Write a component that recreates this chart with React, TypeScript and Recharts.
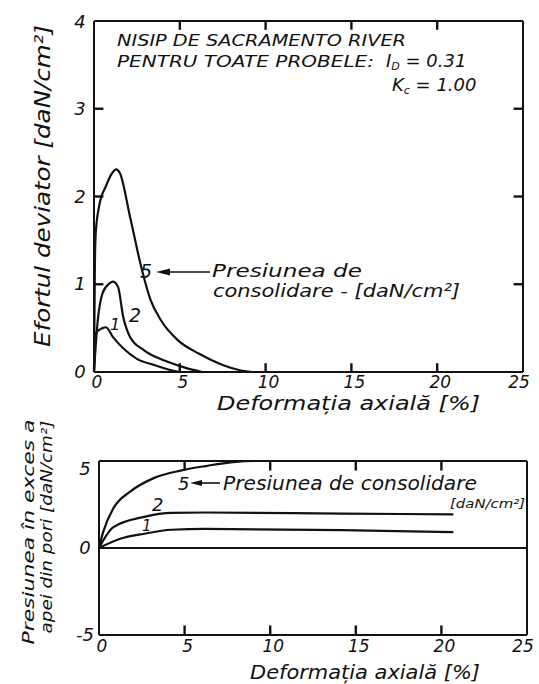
import { LineChart, Line, XAxis, YAxis, ReferenceLine } from 'recharts';

// deformatia axiala [%]
const strainTicks = [0, 5, 10, 15, 20, 25];
const deviatorTicks = [0, 1, 2, 3, 4];
const poreTicks = [-5, 0, 5];

// efortul deviator [daN/cm2], presiunea de consolidare 5, 2, 1
const deviator5 = [
  { x: 0, y: 0 }, { x: 0.05, y: 1.2 }, { x: 0.1, y: 1.58 }, { x: 0.3, y: 1.89 }, { x: 0.7, y: 2.12 },
  { x: 1.0, y: 2.25 }, { x: 1.3, y: 2.31 }, { x: 1.5, y: 2.27 }, { x: 2.1, y: 1.77 }, { x: 2.7, y: 1.24 },
  { x: 3.3, y: 0.82 }, { x: 3.9, y: 0.59 }, { x: 4.9, y: 0.36 }, { x: 6.1, y: 0.21 }, { x: 7.5, y: 0.08 },
  { x: 8.5, y: 0.02 }, { x: 9.2, y: 0 },
];
const deviator2 = [
  { x: 0, y: 0 }, { x: 0.2, y: 0.55 }, { x: 0.5, y: 0.9 }, { x: 0.9, y: 1.01 }, { x: 1.1, y: 1.03 },
  { x: 1.4, y: 0.97 }, { x: 1.7, y: 0.63 }, { x: 2.1, y: 0.4 }, { x: 2.9, y: 0.25 }, { x: 4.1, y: 0.13 },
  { x: 5.3, y: 0.05 }, { x: 6.3, y: 0 },
];
const deviator1 = [
  { x: 0, y: 0 }, { x: 0.1, y: 0.44 }, { x: 0.5, y: 0.5 }, { x: 0.7, y: 0.51 }, { x: 1.1, y: 0.4 },
  { x: 1.7, y: 0.27 }, { x: 2.5, y: 0.15 }, { x: 3.5, y: 0.08 }, { x: 4.5, y: 0.02 }, { x: 5.0, y: 0 },
];

// presiunea in exces a apei din pori [daN/cm2]
const pore5 = [
  { x: 0, y: 0 }, { x: 0.24, y: 0.91 }, { x: 0.84, y: 2.28 }, { x: 1.84, y: 3.25 }, { x: 3.23, y: 4.03 },
  { x: 4.83, y: 4.46 }, { x: 6.23, y: 4.71 }, { x: 7.83, y: 4.94 }, { x: 9.2, y: 5 }, { x: 21, y: 5 },
];
const pore2 = [
  { x: 0, y: 0 }, { x: 0.84, y: 1.2 }, { x: 2.64, y: 1.79 }, { x: 4.23, y: 2.02 }, { x: 6.2, y: 2.04 },
  { x: 14.2, y: 1.98 }, { x: 20.7, y: 1.93 },
];
const pore1 = [
  { x: 0, y: 0 }, { x: 1.24, y: 0.53 }, { x: 2.64, y: 0.82 }, { x: 4.23, y: 1.05 }, { x: 6.2, y: 1.1 },
  { x: 14.2, y: 1.03 }, { x: 20.7, y: 0.91 },
];

const FONT = '"DejaVu Sans", sans-serif';
const INK = '#111';

const txt = (size: number) => ({ fontFamily: FONT, fontStyle: 'italic' as const, fontSize: size, fill: INK });

const BottomLabel = (p: any) => {
  const { x, y, payload, dy } = p;
  const v = payload.value;
  const lx = v === 25 ? x - 4 : x + 3;
  return <text x={lx} y={y + dy} textAnchor="middle" {...txt(17)}>{v}</text>;
};
const LeftLabel = (p: any) => {
  const { x, y, payload, topDy } = p;
  const v = payload.value;
  return <text x={x - 14} y={y + (v === p.max ? topDy : 6)} textAnchor="middle" {...txt(18)}>{v}</text>;
};

const axisLine = { stroke: INK, strokeWidth: 2 };

// inward tick marks as short segments (length in data units ~ 9px)
const tickSeg = (pts: { x: number; y: number }[], key: string) => (
  <ReferenceLine key={key} xAxisId="b" yAxisId="l" segment={pts} stroke={INK} strokeWidth={2.4} ifOverflow="visible" />
);
const innerStrain = strainTicks.filter((v) => v > 0 && v < 25);
const innerDeviator = deviatorTicks.filter((v) => v > 0 && v < 4);

const App = () => {
  return (
    <div style={{ position: 'absolute', left: 0, top: 0, width: 539, height: 684, background: '#fff' }}>
      <div style={{ position: 'absolute', left: 0, top: 0 }}>
        <LineChart width={539} height={400} margin={{ top: 20, right: 15, left: 0, bottom: 0 }}>
          <XAxis
            xAxisId="b" dataKey="x" type="number" domain={[0, 25]} ticks={strainTicks}
            height={28} tickSize={0} tickMargin={0} tickLine={false} axisLine={axisLine}
            tick={(p: any) => <BottomLabel {...p} dy={16} />} interval={0}
          />
          <XAxis
            xAxisId="t" orientation="top" dataKey="x" type="number" domain={[0, 25]} ticks={strainTicks}
            height={1} tickSize={0} tickLine={false} axisLine={axisLine} tick={false}
          />
          <YAxis
            yAxisId="l" type="number" domain={[0, 4]} ticks={deviatorTicks} width={94}
            tickSize={0} tickMargin={0} tickLine={false} axisLine={axisLine} interval={0}
            tick={(p: any) => <LeftLabel {...p} max={4} topDy={7} />}
          />
          <YAxis
            yAxisId="r" orientation="right" type="number" domain={[0, 4]} ticks={deviatorTicks} width={1}
            tickSize={0} tickLine={false} axisLine={axisLine} tick={false}
          />
          {innerStrain.map((v) => tickSeg([{ x: v, y: 0 }, { x: v, y: 0.1 }], 'xb' + v))}
          {innerStrain.map((v) => tickSeg([{ x: v, y: 4 }, { x: v, y: 3.9 }], 'xt' + v))}
          {innerDeviator.map((v) => tickSeg([{ x: 0, y: v }, { x: 0.55, y: v }], 'yl' + v))}
          {innerDeviator.map((v) => tickSeg([{ x: 25, y: v }, { x: 24.45, y: v }], 'yr' + v))}
          {[deviator5, deviator2, deviator1].map((d, i) => (
            <Line
              key={'d' + i} xAxisId="b" yAxisId="l" data={d} dataKey="y" type="monotone"
              stroke={INK} strokeWidth={2.2} dot={false} isAnimationActive={false}
            />
          ))}
        </LineChart>
      </div>

      <div style={{ position: 'absolute', left: 0, top: 440 }}>
        <LineChart width={539} height={244} margin={{ top: 20, right: 11, left: 0, bottom: 0 }}>
          <XAxis
            xAxisId="b" dataKey="x" type="number" domain={[0, 25]} ticks={strainTicks}
            height={49} tickSize={0} tickMargin={0} tickLine={false} axisLine={axisLine}
            tick={(p: any) => <BottomLabel {...p} dy={17} />} interval={0}
          />
          <XAxis
            xAxisId="t" orientation="top" dataKey="x" type="number" domain={[0, 25]} ticks={strainTicks}
            height={1} tickSize={0} tickLine={false} axisLine={axisLine} tick={false}
          />
          <YAxis
            yAxisId="l" type="number" domain={[-5, 5]} ticks={poreTicks} width={99}
            tickSize={0} tickMargin={0} tickLine={false} axisLine={axisLine} interval={0}
            tick={(p: any) => <LeftLabel {...p} max={5} topDy={14} />}
          />
          <YAxis
            yAxisId="r" orientation="right" type="number" domain={[-5, 5]} ticks={poreTicks} width={1}
            tickSize={0} tickLine={false} axisLine={axisLine} tick={false}
          />
          {innerStrain.map((v) => tickSeg([{ x: v, y: -5 }, { x: v, y: -4.45 }], 'pb' + v))}
          {innerStrain.map((v) => tickSeg([{ x: v, y: 5 }, { x: v, y: 4.45 }], 'pt' + v))}
          <ReferenceLine xAxisId="b" yAxisId="l" y={0} stroke={INK} strokeWidth={2} />
          {[pore5, pore2, pore1].map((d, i) => (
            <Line
              key={'p' + i} xAxisId="b" yAxisId="l" data={d} dataKey="y" type="monotone"
              stroke={INK} strokeWidth={2.2} dot={false} isAnimationActive={false}
            />
          ))}
        </LineChart>
      </div>

      {/* texte si adnotari */}
      <svg width={539} height={684} style={{ position: 'absolute', left: 0, top: 0, pointerEvents: 'none' }}>
        <text x={117} y={46} textLength={289} lengthAdjust="spacingAndGlyphs" {...txt(16)}>NISIP DE SACRAMENTO RIVER</text>
        <text x={117} y={67} textLength={257} lengthAdjust="spacingAndGlyphs" {...txt(16)}>PENTRU TOATE PROBELE:</text>
        <text x={386} y={67} {...txt(18)}>
          I<tspan dy={3} fontSize={11}>D</tspan><tspan dy={-3}> = 0.31</tspan>
        </text>
        <text x={392} y={91} {...txt(18)}>
          K<tspan dy={3} fontSize={11}>c</tspan><tspan dy={-3}> = 1.00</tspan>
        </text>

        <text transform="translate(50,186) rotate(-90)" textAnchor="middle" textLength={322} lengthAdjust="spacingAndGlyphs" {...txt(22)}>
          Efortul deviator [daN/cm²]
        </text>
        <text x={217} y={410} textLength={263} lengthAdjust="spacingAndGlyphs" {...txt(20)}>Deformația axială [%]</text>

        <text x={140} y={278} {...txt(19)}>5</text>
        <line x1={162} y1={272} x2={210} y2={272} stroke={INK} strokeWidth={1.6} />
        <polygon points="156,272 170,268.5 170,275.5" fill={INK} />
        <text x={212} y={277} textLength={150} lengthAdjust="spacingAndGlyphs" {...txt(18)}>Presiunea de</text>
        <text x={213} y={297} textLength={247} lengthAdjust="spacingAndGlyphs" {...txt(18)}>consolidare - [daN/cm²]</text>
        <text x={129} y={322} {...txt(19)}>2</text>
        <text x={110} y={330} {...txt(16)}>1</text>

        <text transform="translate(34,532) rotate(-90)" textAnchor="middle" textLength={225} lengthAdjust="spacingAndGlyphs" {...txt(16)}>
          Presiunea în exces a
        </text>
        <text transform="translate(52,527) rotate(-90)" textAnchor="middle" textLength={213} lengthAdjust="spacingAndGlyphs" {...txt(16)}>
          apei din pori [daN/cm²]
        </text>
        <text x={250} y={679} textLength={230} lengthAdjust="spacingAndGlyphs" {...txt(19)}>Deformația axială [%]</text>

        <text x={178} y={490} {...txt(18)}>5</text>
        <line x1={196} y1={483} x2={220} y2={483} stroke={INK} strokeWidth={1.6} />
        <polygon points="190,483 202,480 202,486" fill={INK} />
        <text x={223} y={490} textLength={254} lengthAdjust="spacingAndGlyphs" {...txt(19)}>Presiunea de consolidare</text>
        <text x={450} y={508} textLength={75} lengthAdjust="spacingAndGlyphs" {...txt(13)}>[daN/cm²]</text>
        <text x={152} y={511} {...txt(18)}>2</text>
        <text x={142} y={531} {...txt(15)}>1</text>
      </svg>
    </div>
  );
};

export default App;
